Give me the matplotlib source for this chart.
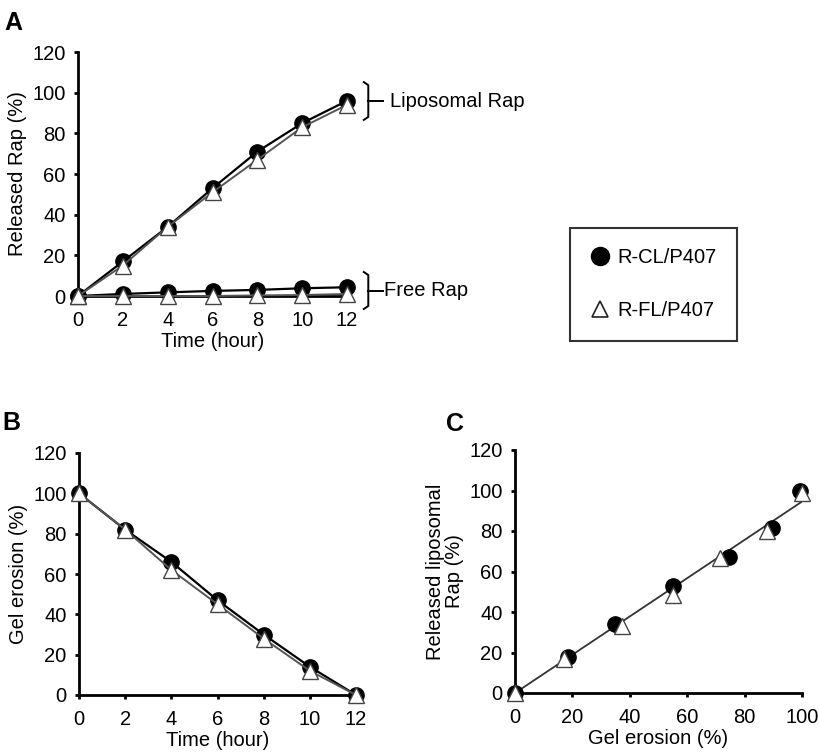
import matplotlib
matplotlib.use("Agg")
import matplotlib.pyplot as plt
import numpy as np

plt.rcParams['font.family'] = ['Liberation Sans', 'DejaVu Sans']

# panel A: release over time
time_h = [0, 2, 4, 6, 8, 10, 12]
lipo_cl = [0, 17, 34, 53, 71, 85, 96]
lipo_fl = [0, 15, 34, 51, 67, 83, 94]
free_cl = [0, 1, 1.8, 2.5, 3, 3.8, 4.3]
free_fl = [0, 0, 0, 0, 0.3, 0.5, 1]

# panel B: gel erosion over time
erosion_cl = [100, 82, 66, 47, 30, 14, 0]
erosion_fl = [100, 82, 62, 45, 28, 12, 0]

# panel C: released liposomal rap vs gel erosion
c_x_cl = [0, 18.3, 35, 55, 74.4, 89.5, 99.4]
c_y_cl = [0, 18, 34, 52.6, 67.4, 81.4, 100]
c_x_fl = [0, 16.9, 37.2, 55, 71.5, 87.8, 100]
c_y_fl = [0, 17, 33, 48.5, 66.6, 80, 98.7]

labels = ["R-CL/P407", "R-FL/P407"]

W, H = 819, 756
fig = plt.figure(figsize=(W / 100, H / 100), dpi=100)

def px_axes(l, r, b, t):
    return fig.add_axes([l / W, 1 - b / H, (r - l) / W, (b - t) / H])

FS = 14.5
circ = dict(marker='o', ms=11, mfc='black', mec='black', color='black', lw=1.6, clip_on=False, zorder=3)
tri = dict(marker='^', ms=11.5, mfc='white', mec='#444444', mew=1.0, color='#555555', lw=1.4, clip_on=False, zorder=4)

def style(ax):
    for s in ['top', 'right']:
        ax.spines[s].set_visible(False)
    for s in ['left', 'bottom']:
        ax.spines[s].set_linewidth(2)
    ax.tick_params(width=2, length=3, labelsize=FS, direction='out')
    ax.tick_params(axis='y', pad=6)
    ax.tick_params(axis='x', pad=8)

# A
axA = px_axes(78, 347, 296, 52)
axA.plot(time_h, lipo_cl, **circ)
axA.plot(time_h, free_cl, **circ)
axA.plot(time_h, lipo_fl, **tri)
axA.plot(time_h, free_fl, **tri)
axA.set_xlim(0, 12)
axA.set_ylim(0, 120)
axA.set_xticks(range(0, 13, 2))
axA.set_yticks(range(0, 121, 20))
axA.set_xlabel("Time (hour)", fontsize=FS, labelpad=1)
axA.set_ylabel("Released Rap (%)", fontsize=FS, labelpad=4)
style(axA)

# brackets on panel A
def bracket(ax, y0, y1, text, tx):
    xv, xh, xt = 12.95, 12.75, 13.6
    ax.plot([xh, xv, xv, xh], [y0, y0 + 1.5, y1 - 1.5, y1], color='black', lw=1.4, clip_on=False)
    ym = (y0 + y1) / 2
    ax.plot([xv, xt], [ym, ym], color='black', lw=1.4, clip_on=False)
    ax.text(tx, ym, text, fontsize=FS, va='center', ha='left')

bracket(axA, 86.6, 105.2, "Liposomal Rap", 13.9)
bracket(axA, -6.4, 11.8, "Free Rap", 13.65)

# B
axB = px_axes(79, 356, 695, 453)
axB.plot(time_h, erosion_cl, **circ)
axB.plot(time_h, erosion_fl, **tri)
axB.set_xlim(0, 12)
axB.set_ylim(0, 120)
axB.set_xticks(range(0, 13, 2))
axB.set_yticks(range(0, 121, 20))
axB.set_xlabel("Time (hour)", fontsize=FS, labelpad=1)
axB.set_ylabel("Gel erosion (%)", fontsize=FS, labelpad=4)
style(axB)

# C
axC = px_axes(515, 802, 693, 450)
allx = np.array(c_x_cl + c_x_fl)
ally = np.array(c_y_cl + c_y_fl)
slope = np.sum(allx * ally) / np.sum(allx * allx)
fx = np.array([0, 100])
axC.plot(fx, slope * fx, color='#333333', lw=1.3, zorder=2)
axC.plot(c_x_cl, c_y_cl, ls='none', **circ)
axC.plot(c_x_fl, c_y_fl, ls='none', **tri)
axC.set_xlim(0, 100)
axC.set_ylim(0, 120)
axC.set_xticks(range(0, 101, 20))
axC.set_yticks(range(0, 121, 20))
axC.set_xlabel("Gel erosion (%)", fontsize=FS, labelpad=1)
axC.set_ylabel("Released liposomal\nRap (%)", fontsize=FS, labelpad=4, linespacing=1.0)
style(axC)

# panel letters
fig.text(4 / W, 1 - 30 / H, "A", fontsize=18, fontweight='bold')
fig.text(2 / W, 1 - 430 / H, "B", fontsize=18, fontweight='bold')
fig.text(446 / W, 1 - 431 / H, "C", fontsize=18, fontweight='bold')

# legend
h1, = axA.plot([], [], marker='o', ms=13, mfc='black', mec='black', ls='none')
h2, = axA.plot([], [], marker='^', ms=12, mfc='white', mec='#222222', mew=1.2, ls='none')
leg = fig.legend([h1, h2], labels, loc='upper left', bbox_to_anchor=(570 / W, 1 - 228 / H),
                 fontsize=FS, frameon=True, fancybox=False, edgecolor='black',
                 labelspacing=1.7, borderpad=1.0, handlelength=1.0, handletextpad=0.35,
                 borderaxespad=0)
leg.get_frame().set_linewidth(1.5)

fig.savefig("out.png", dpi=100)
